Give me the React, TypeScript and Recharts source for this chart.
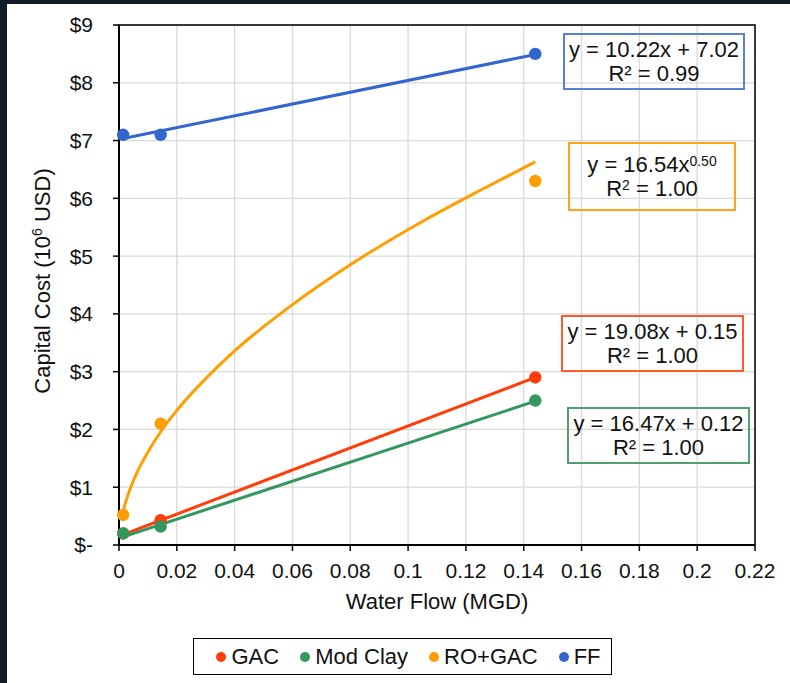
import React from "react";
import {
  ComposedChart,
  Line,
  Scatter,
  XAxis,
  YAxis,
  CartesianGrid,
  ReferenceArea,
} from "recharts";

// ---- data ----
const FLOW_X = [0.00144, 0.0144, 0.144];
const GAC_COST = [0.2, 0.43, 2.9];
const CLAY_COST = [0.2, 0.32, 2.5];
const RO_COST = [0.52, 2.1, 6.3];
const FF_COST = [7.1, 7.1, 8.5];

const LIN_TREND_X = [0.00144, 0.144];
const GAC_TREND_Y = [0.18, 2.9];
const CLAY_TREND_Y = [0.14, 2.49];
const FF_TREND_Y = [7.035, 8.49];
const RO_TREND_X = [0.00144, 0.002, 0.003, 0.004, 0.006, 0.008, 0.01, 0.0144, 0.02, 0.03, 0.04, 0.06, 0.08, 0.106, 0.125, 0.144];
const RO_TREND_Y = [0.58, 0.69, 0.85, 0.99, 1.23, 1.43, 1.61, 1.96, 2.33, 2.88, 3.36, 4.16, 4.85, 5.63, 6.14, 6.63];

const X_TICKS = [0, 0.02, 0.04, 0.06, 0.08, 0.1, 0.12, 0.14, 0.16, 0.18, 0.2, 0.22];
const Y_TICKS = [0, 1, 2, 3, 4, 5, 6, 7, 8, 9];

const SERIES_NAMES = ["GAC", "Mod Clay", "RO+GAC", "FF"];
const SERIES_COLORS = ["#ff3d0a", "#34975f", "#ff9e00", "#3366cc"];
const BOX_COLORS = ["#ff5a2e", "#4e9e72", "#ffa31a", "#5a80d2"];

const FONT = '"Liberation Sans", Arial, sans-serif';

const zip = (xs: number[], ys: number[]) => xs.map((x, i) => ({ x, y: ys[i] }));

const gacPts = zip(FLOW_X, GAC_COST);
const clayPts = zip(FLOW_X, CLAY_COST);
const roPts = zip(FLOW_X, RO_COST);
const ffPts = zip(FLOW_X, FF_COST);

const gacTrend = zip(LIN_TREND_X, GAC_TREND_Y);
const clayTrend = zip(LIN_TREND_X, CLAY_TREND_Y);
const ffTrend = zip(LIN_TREND_X, FF_TREND_Y);
const roTrend = zip(RO_TREND_X, RO_TREND_Y);

const dot = (color: string) => (props: any) =>
  <circle cx={props.cx} cy={props.cy} r={6.2} fill={color} />;

const boxStyle = (left: number, top: number, width: number, height: number, color: string): React.CSSProperties => ({
  position: "absolute",
  left,
  top,
  width,
  height,
  boxSizing: "border-box",
  border: `2px solid ${color}`,
  display: "flex",
  flexDirection: "column",
  justifyContent: "center",
  alignItems: "center",
  fontFamily: FONT,
  fontSize: 22,
  lineHeight: "23.5px",
  color: "#111",
  whiteSpace: "nowrap",
});

export default function App() {
  return (
    <div style={{ position: "absolute", left: 0, top: 0, width: 790, height: 683, background: "#0f1b27", overflow: "hidden" }}>
      <div style={{ position: "absolute", left: 7, top: 4, width: 783, height: 679, background: "#ffffff" }} />
      <div style={{ position: "absolute", left: 0, top: 0 }}>
        <ComposedChart width={790} height={683} margin={{ top: 25, right: 35, bottom: 78, left: 0 }}>
          <CartesianGrid stroke="#d9d9d9" strokeWidth={1.3} />
          <XAxis
            type="number"
            dataKey="x"
            domain={[0, 0.22]}
            ticks={X_TICKS}
            interval={0}
            height={60}
            axisLine={{ stroke: "#000", strokeWidth: 2 }}
            tickLine={{ stroke: "#000", strokeWidth: 1.5 }}
            tickSize={6}
            tickMargin={12}
            tick={{ fill: "#111", fontSize: 21, fontFamily: FONT }}
            tickFormatter={(v: number) => String(+v.toFixed(2))}
            label={{
              content: () => (
                <text x={437} y={609} textAnchor="middle" fill="#111" fontSize={22} fontFamily={FONT}>
                  Water Flow (MGD)
                </text>
              ),
            }}
          />
          <YAxis
            type="number"
            dataKey="y"
            domain={[0, 9]}
            ticks={Y_TICKS}
            interval={0}
            width={119}
            axisLine={{ stroke: "#000", strokeWidth: 2 }}
            tickLine={{ stroke: "#000", strokeWidth: 1.5 }}
            tickSize={6}
            tickMargin={20}
            tick={{ fill: "#111", fontSize: 21, fontFamily: FONT }}
            tickFormatter={(v: number) => (v === 0 ? "$-" : `$${v}`)}
            label={{
              content: () => (
                <text
                  x={50}
                  y={281}
                  transform="rotate(-90 50 281)"
                  textAnchor="middle"
                  fill="#111"
                  fontSize={22}
                  fontFamily={FONT}
                >
                  <tspan>Capital Cost (10</tspan>
                  <tspan fontSize={14} dy={-8}>6</tspan>
                  <tspan dy={8}> USD)</tspan>
                </text>
              ),
            }}
          />
          <ReferenceArea x1={0} x2={0.22} y1={0} y2={9} fill="none" fillOpacity={0} stroke="#000" strokeWidth={1.5} ifOverflow="visible" />
          <Line data={gacTrend} dataKey="y" type="linear" stroke={SERIES_COLORS[0]} strokeWidth={3} dot={false} activeDot={false} isAnimationActive={false} />
          <Line data={clayTrend} dataKey="y" type="linear" stroke={SERIES_COLORS[1]} strokeWidth={3} dot={false} activeDot={false} isAnimationActive={false} />
          <Line data={roTrend} dataKey="y" type="monotone" stroke={SERIES_COLORS[2]} strokeWidth={3} dot={false} activeDot={false} isAnimationActive={false} />
          <Line data={ffTrend} dataKey="y" type="linear" stroke={SERIES_COLORS[3]} strokeWidth={3} dot={false} activeDot={false} isAnimationActive={false} />
          <Scatter data={gacPts} dataKey="y" shape={dot(SERIES_COLORS[0])} isAnimationActive={false} />
          <Scatter data={clayPts} dataKey="y" shape={dot(SERIES_COLORS[1])} isAnimationActive={false} />
          <Scatter data={roPts} dataKey="y" shape={dot(SERIES_COLORS[2])} isAnimationActive={false} />
          <Scatter data={ffPts} dataKey="y" shape={dot(SERIES_COLORS[3])} isAnimationActive={false} />
        </ComposedChart>
      </div>

      {/* trendline equation boxes */}
      <div style={boxStyle(563, 33, 182, 57, BOX_COLORS[3])}>
        <div>y = 10.22x + 7.02</div>
        <div>R² = 0.99</div>
      </div>
      <div style={boxStyle(568, 142, 168, 69, BOX_COLORS[2])}>
        <div>
          y = 16.54x<sup style={{ fontSize: 14, verticalAlign: "6px", lineHeight: 0 }}>0.50</sup>
        </div>
        <div>
          R<sup style={{ fontSize: 14, verticalAlign: "6px", lineHeight: 0 }}>2</sup> = 1.00
        </div>
      </div>
      <div style={boxStyle(561, 315, 183, 57, BOX_COLORS[0])}>
        <div>y = 19.08x + 0.15</div>
        <div>R² = 1.00</div>
      </div>
      <div style={boxStyle(567, 407, 183, 57, BOX_COLORS[1])}>
        <div>y = 16.47x + 0.12</div>
        <div>R² = 1.00</div>
      </div>

      {/* legend */}
      <div
        style={{
          position: "absolute",
          left: 193,
          top: 638,
          width: 419,
          height: 37,
          boxSizing: "border-box",
          border: "1.5px solid #000",
          display: "flex",
          alignItems: "center",
          justifyContent: "center",
          paddingLeft: 12,
          fontFamily: FONT,
          fontSize: 22,
          color: "#111",
          whiteSpace: "nowrap",
        }}
      >
        {SERIES_NAMES.map((name, i) => (
          <div key={name} style={{ display: "flex", alignItems: "center", marginRight: i < 3 ? 21 : 0 }}>
            <span style={{ display: "inline-block", width: 10, height: 10, borderRadius: 5, background: SERIES_COLORS[i], marginRight: 5 }} />
            <span>{name}</span>
          </div>
        ))}
      </div>
    </div>
  );
}
